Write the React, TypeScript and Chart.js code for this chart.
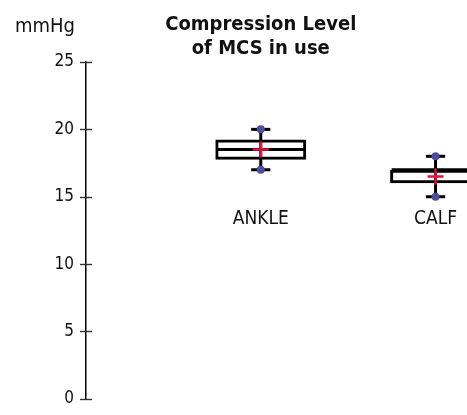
import React, { useEffect, useRef } from 'react';
import { Chart, registerables } from 'chart.js';

Chart.register(...registerables);

const categories = ['ANKLE', 'CALF'];
const positions = [1, 2];
const mins = [17, 15];
const q1s = [17.75, 16];
const medians = [18.5, 17];
const q3s = [19.25, 17];
const maxs = [20, 18];
const means = [18.5, 16.5];
const yMin = 0;
const yMax = 25;
const yStep = 5;
const titleLines = ['Compression Level', 'of MCS in use'];
const yUnit = 'mmHg';

const FONT = '"Liberation Sans Narrow", "DejaVu Sans Condensed", "Open Sans", sans-serif';
const PURPLE = '#4d4d9e';
const RED = '#e2103c';

const boxPlugin = {
  id: 'boxPlugin',
  beforeDatasetsDraw(chart: any) {
    const { ctx, scales } = chart;
    const x = scales.x;
    const y = scales.y;
    const bars = chart.getDatasetMeta(0).data;
    ctx.save();
    ctx.strokeStyle = '#000';
    ctx.lineWidth = 3;
    ctx.lineCap = 'butt';
    positions.forEach((p, i) => {
      const cx = x.getPixelForValue(p);
      const capHalf = x.getPixelForValue(p + 0.055) - cx;
      const boxHalf = bars[i] ? bars[i].width / 2 - 1.5 : x.getPixelForValue(p + 0.25) - cx;
      ctx.beginPath();
      ctx.moveTo(cx, y.getPixelForValue(mins[i]));
      ctx.lineTo(cx, y.getPixelForValue(maxs[i]));
      ctx.stroke();
      [mins[i], maxs[i]].forEach((v) => {
        const py = y.getPixelForValue(v);
        ctx.beginPath();
        ctx.moveTo(cx - capHalf, py);
        ctx.lineTo(cx + capHalf, py);
        ctx.stroke();
      });
      const my = y.getPixelForValue(medians[i]);
      ctx.beginPath();
      ctx.moveTo(cx - boxHalf, my);
      ctx.lineTo(cx + boxHalf, my);
      ctx.stroke();
    });
    ctx.restore();
  },
  afterDraw(chart: any) {
    const { ctx, scales } = chart;
    const x = scales.x;
    const y = scales.y;
    const axisX = y.right;
    ctx.save();
    ctx.strokeStyle = '#333';
    ctx.lineWidth = 1.4;
    y.ticks.forEach((t: any) => {
      const py = Math.round(y.getPixelForValue(t.value)) + 0.5;
      ctx.beginPath();
      ctx.moveTo(axisX - 6, py);
      ctx.lineTo(axisX + 6, py);
      ctx.stroke();
    });
    ctx.fillStyle = '#111';
    ctx.font = `20px ${FONT}`;
    ctx.textAlign = 'left';
    ctx.textBaseline = 'alphabetic';
    ctx.fillText(yUnit, 15, 32);
    ctx.font = `bold 20px ${FONT}`;
    ctx.textAlign = 'center';
    const tx = x.getPixelForValue(positions[0]);
    ctx.fillText(titleLines[0], tx, 30);
    ctx.fillText(titleLines[1], tx, 54);
    ctx.font = `19px ${FONT}`;
    categories.forEach((c, i) => {
      ctx.fillText(c, x.getPixelForValue(positions[i]), y.getPixelForValue(13));
    });
    ctx.restore();
  },
};

export default function App() {
  const ref = useRef<HTMLCanvasElement | null>(null);
  useEffect(() => {
    if (!ref.current) return;
    const chart = new Chart(ref.current, {
      type: 'bar',
      data: {
        datasets: [
          {
            type: 'bar',
            data: positions.map((p, i) => ({ x: p, y: [q1s[i], q3s[i]] })) as any,
            backgroundColor: 'rgba(0,0,0,0)',
            borderColor: '#000',
            borderWidth: 3,
            borderSkipped: false,
            barPercentage: 0.52,
            categoryPercentage: 1,
            clip: false as any,
            order: 3,
          },
          {
            type: 'scatter',
            data: positions.flatMap((p, i) => [
              { x: p, y: mins[i] },
              { x: p, y: maxs[i] },
            ]),
            pointRadius: 4,
            pointBackgroundColor: PURPLE,
            pointBorderWidth: 0,
            pointBorderColor: PURPLE,
            clip: false as any,
            order: 2,
          } as any,
          {
            type: 'scatter',
            data: positions.map((p, i) => ({ x: p, y: means[i] })),
            pointStyle: 'cross',
            pointRadius: 8,
            pointBorderWidth: 2.5,
            pointBorderColor: RED,
            clip: false as any,
            order: 1,
          } as any,
        ],
      },
      options: {
        animation: false,
        responsive: true,
        maintainAspectRatio: false,
        layout: { autoPadding: false, padding: { top: 62, bottom: 10, left: 0, right: 0 } },
        plugins: { legend: { display: false }, tooltip: { enabled: false }, title: { display: false } },
        scales: {
          x: {
            type: 'linear',
            min: 0,
            max: 2.18,
            offset: false,
            display: false,
            ticks: { stepSize: 1 },
            grid: { offset: false },
          },
          y: {
            min: yMin,
            max: yMax,
            ticks: {
              stepSize: yStep,
              color: '#111',
              padding: 6,
              font: { family: FONT, size: 17 },
            },
            grid: { display: true, drawOnChartArea: false, drawTicks: true, tickLength: 6, color: 'rgba(0,0,0,0)' },
            border: { display: true, color: '#000', width: 1.5 },
            afterFit: (scale: any) => {
              scale.width = 86;
            },
          },
        },
      },
      plugins: [boxPlugin],
    });
    return () => chart.destroy();
  }, []);
  return (
    <div style={{ position: 'fixed', left: 0, top: 0, width: 467, height: 415 }}>
      <canvas ref={ref} />
    </div>
  );
}
